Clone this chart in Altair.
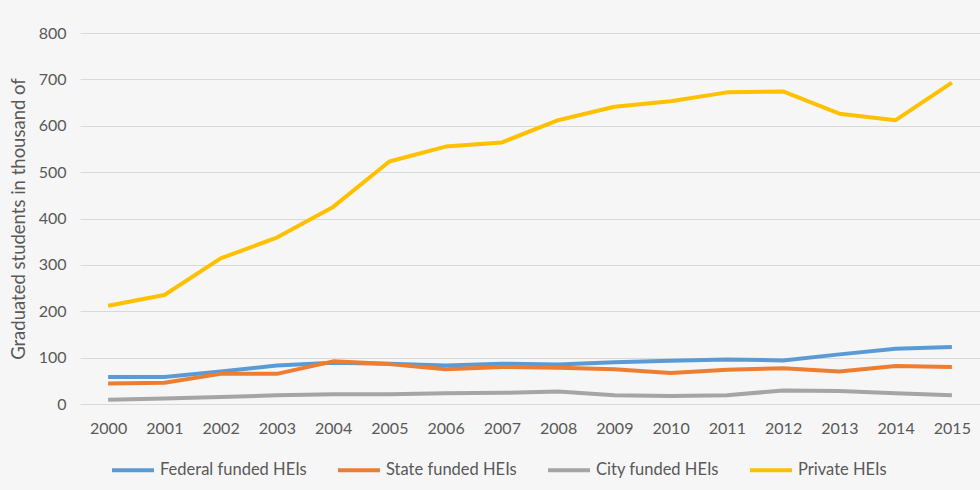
import altair as alt
import pandas as pd

years = [str(y) for y in range(2000, 2016)]
series_names = ["Federal funded HEIs", "State funded HEIs", "City funded HEIs", "Private HEIs"]
federal = [58, 58, 70, 83, 89, 87, 83, 87, 85, 90, 93, 96, 94, 107, 119, 123]
state = [44, 46, 65, 65, 92, 86, 75, 80, 78, 75, 67, 74, 77, 70, 82, 80]
city = [9, 12, 15, 19, 21, 21, 23, 24, 27, 19, 17, 19, 29, 28, 23, 19]
private = [212, 235, 314, 359, 425, 523, 555, 564, 612, 641, 653, 672, 674, 626, 612, 693]
colors = ["#5B9BD5", "#ED7D31", "#A5A5A5", "#FFC000"]

rows = []
for name, vals in zip(series_names, [federal, state, city, private]):
    for y, v in zip(years, vals):
        rows.append({"year": y, "series": name, "value": v})
df = pd.DataFrame(rows)

FONT = "Lato"
TXT = "#595959"

chart = alt.Chart(df).mark_line(strokeWidth=4, strokeJoin="round").encode(
    x=alt.X("year:O", sort=years,
            scale=alt.Scale(type="point", padding=0.5),
            axis=alt.Axis(title=None, labelAngle=0, ticks=False, domain=False,
                          labelPadding=16, labelFontSize=16, labelColor=TXT,
                          labelFont=FONT, grid=False)),
    y=alt.Y("value:Q", scale=alt.Scale(domain=[0, 800]),
            axis=alt.Axis(title="Graduated students in thousand of", values=list(range(0, 801, 100)),
                          ticks=False, domain=False, labelPadding=14,
                          labelFontSize=16, labelColor=TXT, labelFont=FONT,
                          titleFontSize=18.5, titleFont=FONT, titleColor=TXT,
                          titleFontWeight="normal", titlePadding=10,
                          gridColor="#d9d9d9", gridWidth=1.2)),
    color=alt.Color("series:N", sort=series_names,
                    scale=alt.Scale(domain=series_names, range=colors),
                    legend=alt.Legend(title=None, orient="none", direction="horizontal",
                                      legendX=30, legendY=414,
                                      symbolType="stroke", symbolSize=1764,
                                      symbolStrokeWidth=4, labelFontSize=16.5,
                                      labelFont=FONT, labelColor=TXT,
                                      labelOffset=4, columnPadding=23)),
    order=alt.Order("year:O"),
).properties(
    width=900, height=371,
    autosize=alt.AutoSizeParams(type="none"),
    padding={"left": 80, "top": 33, "right": 0, "bottom": 86},
    background="#f6f6f6",
).configure_view(stroke=None)

chart.save("out.html", embed_options={"renderer": "svg", "actions": False})
